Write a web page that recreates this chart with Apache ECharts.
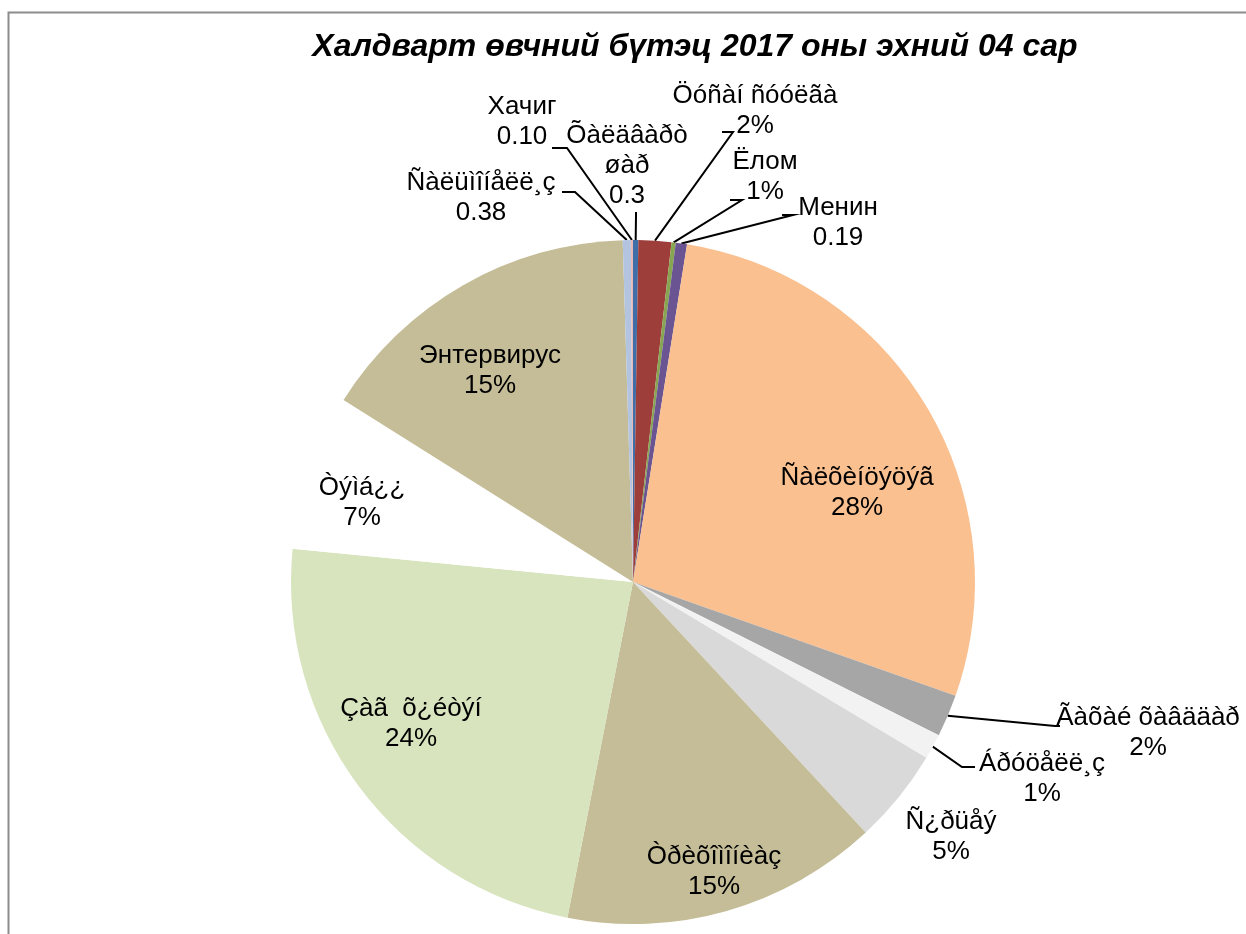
<!DOCTYPE html>
<html>
<head>
<meta charset="utf-8">
<script src="https://cdn.jsdelivr.net/npm/echarts@6/dist/echarts.min.js"></script>
<style>
  html, body { margin: 0; padding: 0; background: #fff; }
  #chart { width: 1246px; height: 934px; }
</style>
</head>
<body>
<div id="chart"></div>
<script>
// slice names, clockwise from 12 o'clock
var names = [
  'Õàëäâàðò\nøàð', 'Öóñàí ñóóëãà', 'Ёлом', 'Менин', 'Ñàëõèíöýöýã',
  'Ãàõàé õàâääàð', 'Áðóöåëë¸ç', 'Ñ¿ðüåý', 'Òðèõîìîíèàç', 'Çàã  õ¿éòýí',
  'Òýìá¿¿', 'Энтервирус', 'Ñàëüìîíåëë¸ç', 'Хачиг'
];
// share of each slice, %
var shares = [0.25, 1.55, 0.2, 0.53, 27.9, 2.0, 1.2, 4.5, 15.0, 23.5, 7.4, 15.6, 0.38, 0.1];
// value text shown under each name
var valueTexts = ['0.3', '2%', '1%', '0.19', '28%', '2%', '1%', '5%', '15%', '24%', '7%', '15%', '0.38', '0.10'];
var colors = ['#3F6EA9', '#9E3E3B', '#88A552', '#6A5592', '#FAC090', '#A6A6A6', '#F2F2F2', '#D9D9D9',
  '#C4BD97', '#D7E4BD', '#FFFFFF', '#C4BD97', '#B3C4E0', '#E6B9B8'];

// label centres and leader-line elbows (layout only)
var labelPos = [
  [627, 166], [755, 111], [765, 177], [838, 223], [857, 493],
  [1148, 733], [1042, 779], [951, 837], [714, 872], [411, 724],
  [362, 503], [490, 371], [481, 198], [522, 122]
];
var elbows = [
  [[636, 216], [636, 212]], [[733, 132], [722, 132]], [[742, 200], [730, 200]], [[793, 215], [782, 215]], null,
  [[1055, 726], [1060, 726]], [[962, 767], [975, 767]], null, null, null,
  null, null, [[575, 192], [562, 192]], [[567, 148], [552, 148]]
];

var chart = echarts.init(document.getElementById('chart'));

var data = names.map(function (n, i) {
  return {
    name: n,
    value: shares[i],
    itemStyle: { color: colors[i] },
    labelLine: { show: !!elbows[i] }
  };
});

chart.setOption({
  animation: false,
  title: {
    text: 'Халдварт өвчний бүтэц 2017 оны эхний 04 сар',
    left: 690, top: 26, textAlign: 'center',
    textStyle: { fontFamily: 'Liberation Sans, Arial', fontSize: 32, fontWeight: 'bold', fontStyle: 'italic', color: '#000' }
  },
  graphic: [{
    type: 'rect', silent: true,
    shape: { x: 8.5, y: 12.5, width: 1260, height: 960 },
    style: { fill: 'none', stroke: '#8c8c8c', lineWidth: 2 }
  }],
  series: [{
    type: 'pie',
    center: [633, 582],
    radius: [0, 342],
    startAngle: 90,
    clockwise: true,
    avoidLabelOverlap: false,
    itemStyle: { borderWidth: 0 },
    emphasis: { disabled: true },
    label: {
      show: true,
      position: 'outside',
      formatter: function (p) { return p.name + '\n' + valueTexts[p.dataIndex]; },
      fontFamily: 'Liberation Sans, Arial',
      fontSize: 26,
      lineHeight: 30,
      color: '#000',
      align: 'center'
    },
    labelLine: { show: true, lineStyle: { color: '#000', width: 2 } },
    labelLayout: function (p) {
      var i = p.dataIndex;
      var out = { x: labelPos[i][0], y: labelPos[i][1], align: 'center', verticalAlign: 'middle' };
      if (elbows[i] && p.labelLinePoints) {
        out.labelLinePoints = [p.labelLinePoints[0], elbows[i][0], elbows[i][1]];
      }
      return out;
    },
    data: data
  }]
});
</script>
</body>
</html>
